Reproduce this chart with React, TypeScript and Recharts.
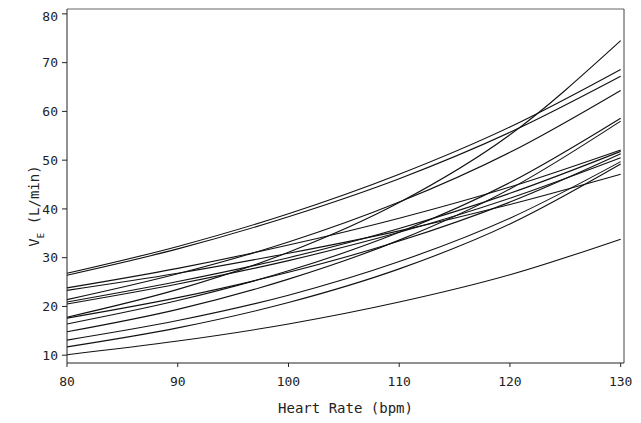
import { LineChart, Line, XAxis, YAxis, Label, ReferenceLine } from "recharts";

const heartRate = [80, 90, 100, 110, 120, 130];

const ve01 = [26.8, 32.3, 39.0, 47.1, 56.8, 68.6];
const ve02 = [26.4, 31.8, 38.4, 46.2, 55.7, 67.2];
const ve03 = [17.8, 23.5, 31.1, 41.3, 55.2, 74.5];
const ve04 = [21.4, 26.7, 33.2, 41.4, 51.6, 64.3];
const ve05 = [16.4, 21.2, 27.3, 35.2, 45.4, 58.6];
const ve06 = [14.8, 19.4, 25.6, 33.6, 44.1, 58.0];
const ve07 = [23.8, 27.8, 32.6, 38.1, 44.5, 52.1];
const ve08 = [23.3, 26.8, 30.9, 35.5, 40.9, 47.1];
const ve09 = [20.9, 25.1, 30.0, 36.0, 43.2, 51.8];
const ve10 = [20.5, 24.6, 29.4, 35.2, 42.2, 50.5];
const ve11 = [17.6, 21.8, 27.0, 33.4, 41.4, 51.3];
const ve12 = [13.1, 17.1, 22.3, 29.2, 38.1, 49.7];
const ve13 = [11.7, 15.6, 20.8, 27.7, 36.9, 49.2];
const ve14 = [10.1, 12.9, 16.4, 20.9, 26.5, 33.8];

const subjects = [ve01, ve02, ve03, ve04, ve05, ve06, ve07, ve08, ve09, ve10, ve11, ve12, ve13, ve14];

const xTicks = [80, 90, 100, 110, 120, 130];
const yTicks = [10, 20, 30, 40, 50, 60, 70, 80];

const data = heartRate.map((hr, i) => {
  const row: Record<string, number> = { hr };
  subjects.forEach((s, j) => {
    row["s" + j] = s[i];
  });
  return row;
});

const font = "'DejaVu Sans Mono', monospace";
const ink = "#222";

function YTitle() {
  return (
    <text transform="translate(31,198) rotate(-90)" textAnchor="middle" fontFamily={font} fontSize={14} fill={ink}>
      V
      <tspan fontSize={9} dy={5}>E</tspan>
      <tspan dy={-5}>{"  (L/min)"}</tspan>
    </text>
  );
}

function XTitle() {
  return (
    <text x={337.5} y={405} textAnchor="middle" fontFamily={font} fontSize={14} fill={ink}>
      Heart Rate  (bpm)
    </text>
  );
}

export default function App() {
  return (
    <LineChart width={633} height={415} data={data} margin={{ top: 1, right: 17, left: 0, bottom: 0 }}>
      <XAxis
        dataKey="hr"
        type="number"
        domain={[80, 130.3]}
        ticks={xTicks}
        height={60}
        tickSize={4}
        tickMargin={10}
        stroke={ink}
        tick={{ fontFamily: font, fontSize: 13, fill: ink }}
      >
        <Label content={XTitle} />
      </XAxis>
      <YAxis
        type="number"
        domain={[8.4, 81]}
        ticks={yTicks}
        width={59}
        tickSize={5}
        tickMargin={4}
        stroke={ink}
        tick={{ fontFamily: font, fontSize: 13, fill: ink }}
      >
        <Label content={YTitle} />
      </YAxis>
      {/* frame on top and right */}
      <ReferenceLine y={81} stroke="#666" strokeWidth={1} />
      <ReferenceLine x={130.3} stroke="#444" strokeWidth={1} />
      {subjects.map((_, j) => (
        <Line
          key={j}
          dataKey={"s" + j}
          type="monotone"
          stroke="#111"
          strokeWidth={1.1}
          dot={false}
          isAnimationActive={false}
        />
      ))}
    </LineChart>
  );
}
